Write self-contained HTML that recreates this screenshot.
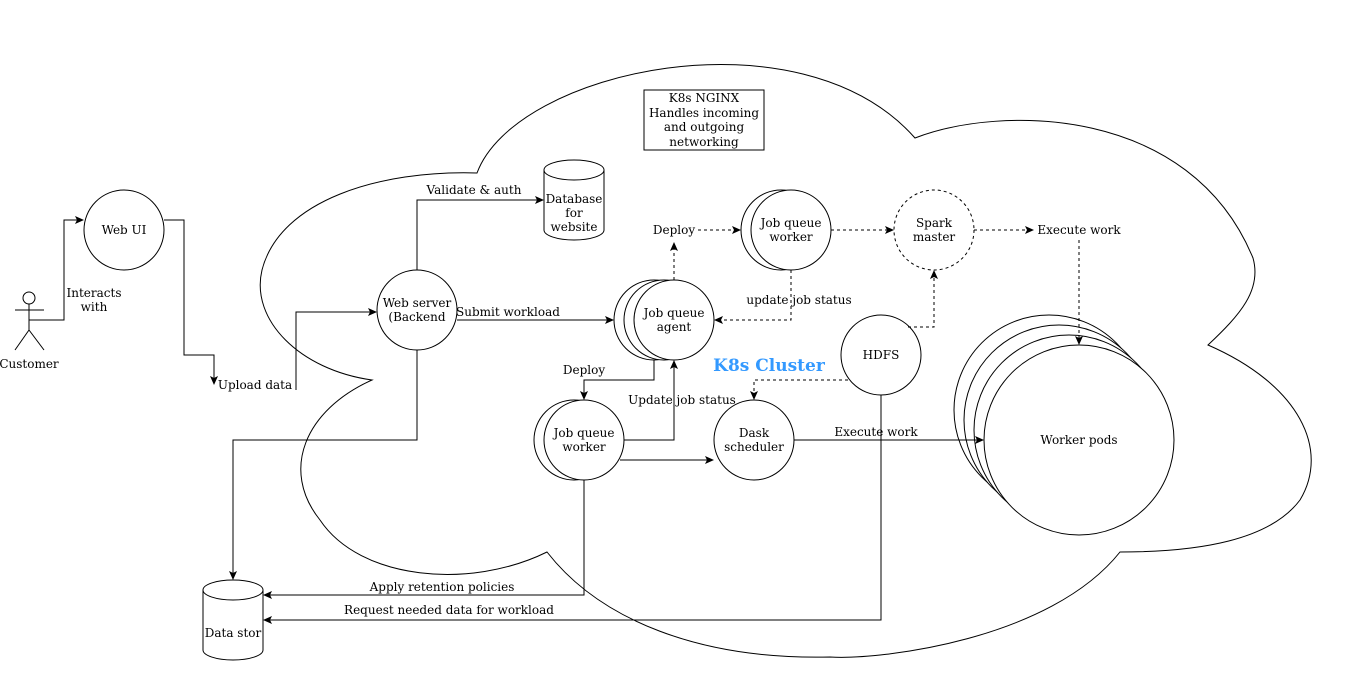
<!DOCTYPE html>
<html><head><meta charset="utf-8"><style>
html,body{margin:0;padding:0;background:#fff;}
svg{display:block;}
text{font-family:"DejaVu Serif","Liberation Serif",serif;font-size:12px;fill:#000;}
</style></head><body>
<svg width="1355" height="691" viewBox="0 0 1355 691" xmlns="http://www.w3.org/2000/svg">
<defs>
<marker id="a" markerWidth="10" markerHeight="10" refX="8" refY="5" orient="auto" markerUnits="userSpaceOnUse">
<path d="M0,1 L9,5 L0,9 L2,5 Z" fill="#000"/></marker>
</defs>
<g fill="none" stroke="#000" stroke-width="1">
<path d="M477,173 C515,70 800,8 915,138 C1000,105 1190,105 1253,258 C1262,290 1240,315 1208,345 C1300,385 1330,450 1300,500 C1270,540 1200,552 1120,552 C1050,640 880,660 830,657 C700,660 600,620 547,552 C470,590 360,580 320,520 C280,470 305,410 372,380 C300,370 250,320 262,270 C280,200 380,170 477,173 Z"/>
<circle cx="29" cy="298" r="6"/>
<line x1="29" y1="304" x2="29" y2="330"/>
<line x1="15" y1="310" x2="44" y2="310"/>
<line x1="29" y1="330" x2="15" y2="350"/>
<line x1="29" y1="330" x2="44" y2="350"/>
<circle cx="124" cy="230" r="40"/>
<circle cx="417" cy="310" r="40"/>
<circle cx="654" cy="320" r="40" fill="#fff"/>
<circle cx="664" cy="320" r="40" fill="#fff"/>
<circle cx="674" cy="320" r="40" fill="#fff"/>
<circle cx="781" cy="230" r="40" fill="#fff"/>
<circle cx="791" cy="230" r="40" fill="#fff"/>
<circle cx="934" cy="230" r="40" stroke-dasharray="3,3"/>
<circle cx="881" cy="355" r="40"/>
<circle cx="754" cy="440" r="40"/>
<circle cx="574" cy="440" r="40" fill="#fff"/>
<circle cx="584" cy="440" r="40" fill="#fff"/>
<circle cx="1049" cy="410" r="95" fill="#fff"/>
<circle cx="1059" cy="420" r="95" fill="#fff"/>
<circle cx="1069" cy="430" r="95" fill="#fff"/>
<circle cx="1079" cy="440" r="95" fill="#fff"/>
<path d="M544,170 L544,230 A30,10 0 0 0 604,230 L604,170" fill="#fff"/>
<ellipse cx="574" cy="170" rx="30" ry="10" fill="#fff"/>
<path d="M203,590 L203,650 A30,10 0 0 0 263,650 L263,590" fill="#fff"/>
<ellipse cx="233" cy="590" rx="30" ry="10" fill="#fff"/>
<rect x="644" y="90" width="120" height="60" fill="#fff"/>
<polyline points="29,320 64,320 64,220 83,220" marker-end="url(#a)"/>
<polyline points="164,220 184,220 184,355 214,355 214,384" marker-end="url(#a)"/>
<polyline points="296,390 296,312 376,312" marker-end="url(#a)"/>
<polyline points="417,270 417,200 543,200" marker-end="url(#a)"/>
<polyline points="457,320 613,320" marker-end="url(#a)"/>
<polyline points="417,350 417,440 233,440 233,579" marker-end="url(#a)"/>
<polyline points="654,360 654,380 584,380 584,399" marker-end="url(#a)"/>
<polyline points="624,440 674,440 674,361" marker-end="url(#a)"/>
<polyline points="620,460 713,460" marker-end="url(#a)"/>
<polyline points="794,440 983,440" marker-end="url(#a)"/>
<polyline points="584,480 584,595 264,595" marker-end="url(#a)"/>
<polyline points="881,395 881,620 264,620" marker-end="url(#a)"/>
<g stroke-dasharray="3,3">
<polyline points="674,280 674,243" marker-end="url(#a)"/>
<polyline points="698,230 740,230" marker-end="url(#a)"/>
<polyline points="831,230 893,230" marker-end="url(#a)"/>
<polyline points="974,230 1033,230" marker-end="url(#a)"/>
<polyline points="1079,240 1079,344" marker-end="url(#a)"/>
<polyline points="791,270 791,320 715,320" marker-end="url(#a)"/>
<polyline points="908,327 934,327 934,271" marker-end="url(#a)"/>
<polyline points="848,380 754,380 754,399" marker-end="url(#a)"/>
</g>
</g>
<g text-anchor="middle">
<text x="29" y="368">Customer</text>
<text x="94" y="297">Interacts</text><text x="94" y="311">with</text>
<text x="124" y="234">Web UI</text>
<text x="255" y="389">Upload data</text>
<text x="417" y="307">Web server</text><text x="417" y="321">(Backend</text>
<text x="474" y="194">Validate &amp; auth</text>
<text x="574" y="203">Database</text><text x="574" y="217">for</text><text x="574" y="231">website</text>
<text x="704" y="102">K8s NGINX</text><text x="704" y="117">Handles incoming</text><text x="704" y="131">and outgoing</text><text x="704" y="146">networking</text>
<text x="508" y="316">Submit workload</text>
<text x="674" y="317">Job queue</text><text x="674" y="331">agent</text>
<text x="674" y="234">Deploy</text>
<text x="791" y="227">Job queue</text><text x="791" y="241">worker</text>
<text x="934" y="227">Spark</text><text x="934" y="241">master</text>
<text x="1079" y="234">Execute work</text>
<text x="799" y="304">update job status</text>
<text x="881" y="359">HDFS</text>
<text x="769" y="371" style="font-size:17px;font-weight:bold;fill:#3399ff">K8s Cluster</text>
<text x="584" y="374">Deploy</text>
<text x="682" y="404">Update job status</text>
<text x="584" y="437">Job queue</text><text x="584" y="451">worker</text>
<text x="754" y="437">Dask</text><text x="754" y="451">scheduler</text>
<text x="876" y="436">Execute work</text>
<text x="1079" y="444">Worker pods</text>
<text x="442" y="591">Apply retention policies</text>
<text x="449" y="614">Request needed data for workload</text>
<text x="233" y="637">Data stor</text>
</g>
</svg>
</body></html>
